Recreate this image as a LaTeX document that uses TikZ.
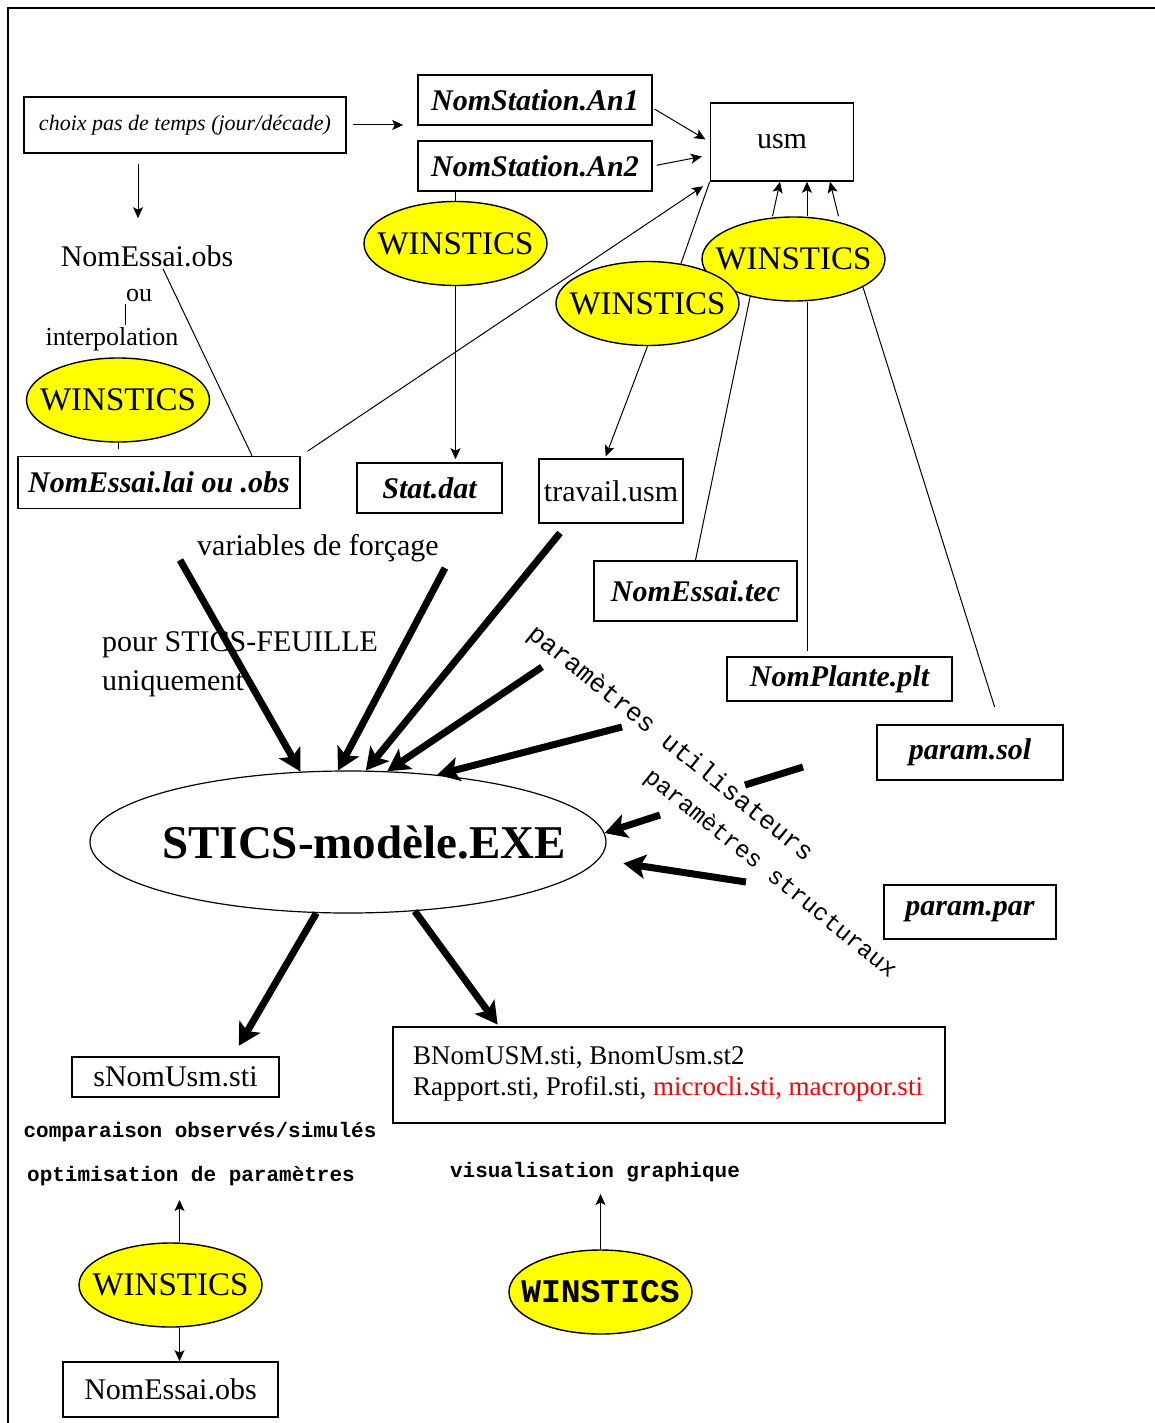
\documentclass[tikz,border=0pt]{standalone}
\usepackage{fontspec}
\setmainfont{Liberation Serif}
\setmonofont{Liberation Mono}
\usepackage{xcolor}
\usepackage{tikz}
\usetikzlibrary{positioning,arrows.meta,shapes.geometric}
\definecolor{winyellow}{RGB}{255,255,0}
\definecolor{outred}{RGB}{255,0,0}

\tikzset{
  filebox/.style={draw, line width=1.6pt, inner sep=0pt,
                  font=\fontsize{30}{36}\selectfont\bfseries\itshape},
  plainbox/.style={draw, line width=1.6pt, inner sep=0pt,
                   font=\fontsize{30}{36}\selectfont},
  winstics/.style={ellipse, draw, line width=1.4pt, fill=winyellow, inner sep=0pt,
                   minimum width=183pt, minimum height=84pt,
                   font=\fontsize{33}{36}\selectfont},
  lbl/.style={inner sep=2pt, font=\fontsize{30}{36}\selectfont},
  monolbl/.style={inner sep=2pt, font=\fontsize{21}{24}\selectfont\ttfamily\bfseries},
  diagtxt/.style={inner sep=0pt, rotate=-39},
  arr/.style={-{Stealth[length=11pt,width=10pt,inset=2.5pt]}, line width=1pt},
  fatarr/.style={-{Stealth[length=22pt,width=24pt,inset=5pt]}, line width=7pt},
  thinline/.style={line width=1pt}
}
\newcommand{\wintxt}{\makebox[0pt]{WINSTICS}}

\begin{document}
\begin{tikzpicture}[x=1pt,y=-1pt]
  \useasboundingbox (0,0) rectangle (1155,1423);
  \draw[line width=2pt] (1160,8) -| (8,1430);

  % inputs at the top
  \node[filebox, minimum width=322pt, minimum height=56pt,
        font=\fontsize{22}{26}\selectfont\itshape] (choix) at (185,125) {choix pas de temps (jour/décade)};
  \node[filebox, minimum width=234pt, minimum height=50pt] (an1) at (535,100) {NomStation.An1};
  \node[filebox, minimum width=234pt, minimum height=50pt] (an2) at (535,166) {NomStation.An2};
  \node[plainbox, minimum width=143pt, minimum height=78pt] (usm) at (782,142) {usm};

  \node[winstics] (win1) at (455.5,243.5) {\wintxt};
  \node[lbl] (obsessai) at (147,256) {NomEssai.obs};
  \node[lbl, font=\fontsize{26}{30}\selectfont] (ou) at (139,296) {ou};
  \node[lbl, font=\fontsize{26}{30}\selectfont] (interp) at (112,339) {interpolation};
  \node[winstics] (win2) at (118,400) {\wintxt};
  \node[filebox, minimum width=282pt, minimum height=52pt] (lai) at (159,482.5) {NomEssai.lai ou .obs};
  \node[filebox, minimum width=145pt, minimum height=50pt] (stat) at (429.5,488) {Stat.dat};
  \node[plainbox, minimum width=144pt, minimum height=64pt] (trav) at (611,491) {travail.usm};

  \node[winstics] (win4) at (793.5,259) {\wintxt};
  \node[winstics] (win3) at (647.5,303.5) {\wintxt};

  \node[filebox, minimum width=203pt, minimum height=60pt] (tec) at (695.5,591) {NomEssai.tec};
  \node[filebox, minimum width=225pt, minimum height=44pt] (plt) at (839.5,679) {NomPlante.plt};
  \node[filebox, minimum width=186pt, minimum height=55pt] (sol) at (970,752.5) {param.sol};
  \node[filebox, minimum width=172pt, minimum height=54pt] (par) at (970,912) {param.par};

  % the model
  \node[ellipse, draw, line width=1.2pt, minimum width=516pt, minimum height=142pt, inner sep=0pt,
        font=\fontsize{47}{52}\selectfont\bfseries] (exe) at (348,842)
        {\makebox[0pt]{\hspace*{32pt}STICS-modèle.EXE}};

  \node[lbl] (forcage) at (318,548) {variables de forçage};
  \node[lbl, anchor=west, align=left, font=\fontsize{30}{39}\selectfont] (feuille) at (100,664)
        {pour STICS-FEUILLE\\uniquement};
  \node[diagtxt, font=\fontsize{26}{30}\selectfont\ttfamily] (putil) at (670,744) {paramètres utilisateurs};
  \node[diagtxt, font=\fontsize{24}{28}\selectfont\ttfamily] (pstruct) at (770,874) {paramètres structuraux};

  % outputs
  \node[plainbox, minimum width=207pt, minimum height=40pt] (snom) at (175.5,1077) {sNomUsm.sti};
  \node[plainbox, minimum width=552pt, minimum height=96pt] (bnom) at (669,1075)
        {\parbox[c][96pt][t]{552pt}{\fontsize{27}{31}\selectfont\leftskip=20pt
         \vspace*{20pt}BNomUSM.sti, BnomUsm.st2\\
         Rapport.sti, Profil.sti, \textcolor{outred}{microcli.sti, macropor.sti}}};
  \node[monolbl] (compar) at (200,1132) {comparaison observés/simulés};
  \node[monolbl] (optim) at (191,1176) {optimisation de paramètres};
  \node[winstics] (win5) at (170.5,1285) {\wintxt};
  \node[plainbox, minimum width=215pt, minimum height=55pt] (obs2) at (170.5,1389.5) {NomEssai.obs};
  \node[monolbl] (visu) at (595,1172) {visualisation graphique};
  \node[winstics, font=\fontsize{33}{36}\selectfont\ttfamily\bfseries] (win6) at (600.5,1292) {\wintxt};

  % thin connectors
  \draw[arr, shorten <=6pt, shorten >=14pt] (choix.east) -- (choix.east -| an1.west);
  \draw[arr, shorten <=10pt, shorten >=25pt] ([xshift=-47pt]choix.south) -- ([xshift=-47pt]choix.south |- obsessai.north);
  \draw[arr, shorten <=2pt, shorten >=5pt] ([yshift=-8pt]an1.east) -- (usm.west);
  \draw[arr, shorten <=4pt, shorten >=8pt] (an2.east) -- ([yshift=-13pt]usm.west);
  \draw[arr, shorten <=8pt, shorten >=8pt] (lai.north east) -- (usm.south west);
  \draw[thinline] (win3.50) -- (usm.south west);
  \draw[arr] ([xshift=-21pt]win4.north) -- ([xshift=-2pt]usm.south);
  \draw[arr] ([xshift=13.5pt]win4.north) -- ([xshift=25pt]usm.south);
  \draw[arr] ([xshift=45pt]win4.north) -- ([xshift=48pt]usm.south);
  \draw[thinline] (win1.north |- an2.south) -- (win1.north);
  \draw[arr, shorten >=3pt] (win1.south) -- (win1.south |- stat.north);
  \draw[thinline] ([xshift=16pt]obsessai.south) -- ([xshift=93pt]lai.north);
  \draw[thinline] ([xshift=-14pt]ou.south) -- ([xshift=13pt]interp.north);
  \draw[thinline, shorten >=7pt] (win2.south) -- (win2.south |- lai.north);
  \draw[arr, shorten >=2pt] (win3.south) -- ([xshift=-6pt]trav.north);
  \draw[thinline] (win4.-139) -- (tec.north);
  \draw[thinline, shorten >=5pt] ([xshift=13.5pt]win4.south) -- ([xshift=-32.5pt]plt.north);
  \draw[thinline, shorten >=18pt] (win4.-22) -- ([xshift=30pt]sol.north);
  \draw[arr, shorten >=12pt] ([xshift=9pt]win5.north) -- ([xshift=9pt]win5.north |- optim.south);
  \draw[arr] ([xshift=9pt]win5.south) -- ([xshift=9pt]win5.south |- obs2.north);
  \draw[arr, shorten >=10pt] (win6.north) -- (win6.north |- visu.south);

  % thick arrows into and out of the model
  \coordinate (v1) at (180,560);
  \coordinate (v2) at (445,568);
  \coordinate (v3) at (560,533);
  \coordinate (v4) at (542,667);
  \coordinate (v5) at (622,727);
  \coordinate (u1) at (803,767);
  \coordinate (u2) at (745,785);
  \coordinate (v6) at (660,815);
  \coordinate (v7) at (746,882);
  \draw[fatarr] (v1) -- (exe.124);
  \draw[fatarr] (v2) -- (exe.98);
  \draw[fatarr] (v3) -- (exe.76);
  \draw[fatarr] (v4) -- (exe.61);
  \draw[fatarr] (v5) -- (exe.37);
  \draw[line width=7pt] (u1) -- (u2);
  \draw[fatarr] (v6) -- (exe.2);
  \draw[fatarr, shorten >=25pt] (v7) -- (exe.-4);
  \draw[fatarr, shorten >=12pt] (exe.-114) -- (snom.20);
  \draw[fatarr, shorten >=2pt] (exe.-46) -- (bnom.164);
\end{tikzpicture}
\end{document}
